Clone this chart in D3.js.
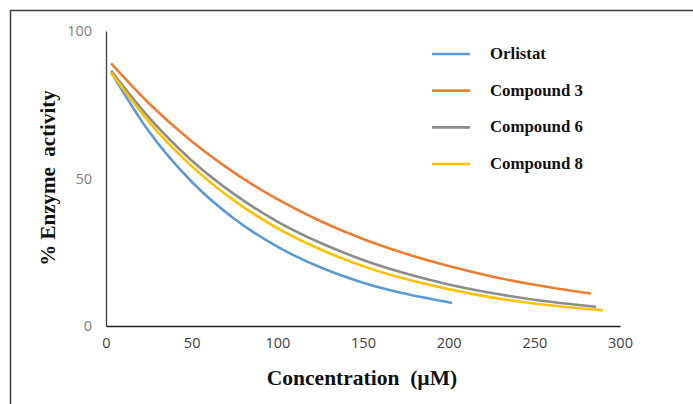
<!DOCTYPE html>
<html>
<head>
<meta charset="utf-8">
<script src="https://cdn.jsdelivr.net/npm/d3@7"></script>
<style>
  html, body { margin: 0; padding: 0; background: #ffffff; }
  svg { display: block; }
</style>
</head>
<body>
<svg id="chart" width="693" height="404"></svg>
<script>
// values
const seriesNames = ['Orlistat', 'Compound 3', 'Compound 6', 'Compound 8'];
const seriesColors = ['#5b9bd5', '#ed7d31', '#8c8c8c', '#ffc000'];

const orlistatX = [3, 25, 50, 75, 100, 125, 150, 175, 202];
const orlistatY = [86, 66.0, 48.9, 36.3, 26.9, 19.9, 14.7, 10.9, 7.8];

const compound3X = [3, 25, 50, 75, 100, 125, 150, 175, 200, 225, 250, 283];
const compound3Y = [89, 75.5, 62.6, 51.9, 43.0, 35.6, 29.5, 24.5, 20.3, 16.8, 14.0, 11.0];

const compound6X = [3, 25, 50, 75, 100, 125, 150, 175, 200, 225, 250, 286];
const compound6Y = [86.5, 70.7, 56.1, 44.6, 35.4, 28.2, 22.4, 17.8, 14.1, 11.2, 8.9, 6.5];

const compound8X = [3, 25, 50, 75, 100, 125, 150, 175, 200, 225, 250, 290];
const compound8Y = [85.9, 69.2, 54.2, 42.4, 33.2, 26.0, 20.3, 15.9, 12.5, 9.7, 7.6, 5.3];

const xTicks = [0, 50, 100, 150, 200, 250, 300];
const yTicks = [0, 50, 100];

const series = [
    {xs: orlistatX, ys: orlistatY},
    {xs: compound3X, ys: compound3Y},
    {xs: compound6X, ys: compound6Y},
    {xs: compound8X, ys: compound8Y}
].map((s, i) => ({
    name: seriesNames[i],
    color: seriesColors[i],
    points: s.xs.map((x, j) => ({x, y: s.ys[j]}))
}));

const svg = d3.select('#chart');

// outer frame (only top and left edges are visible in the crop)
svg.append('path')
    .attr('d', 'M10.5,404 L10.5,10.5 L693,10.5')
    .attr('fill', 'none')
    .attr('stroke', '#404040')
    .attr('stroke-width', 1.5);

const x = d3.scaleLinear().domain([0, 300]).range([106, 620]);
const y = d3.scaleLinear().domain([0, 100]).range([326, 31]);

// y axis
const yAxis = svg.append('g')
    .attr('transform', `translate(${x(0)},0)`)
    .call(d3.axisLeft(y).tickValues(yTicks).tickSize(0).tickPadding(14));
yAxis.select('.domain').attr('stroke', '#404040').attr('stroke-width', 1.3);
yAxis.selectAll('.tick text').attr('fill', '#7f7f7f');

// x axis
const xAxis = svg.append('g')
    .attr('transform', `translate(0,${y(0)})`)
    .call(d3.axisBottom(x).tickValues(xTicks).tickSize(0).tickPadding(12));
xAxis.select('.domain').attr('stroke', '#222222').attr('stroke-width', 1.3);
xAxis.selectAll('.tick text').attr('fill', '#404040');

svg.selectAll('.tick text')
    .attr('font-family', '"Open Sans", sans-serif')
    .attr('font-size', 14.5);

// curves
const line = d3.line()
    .x((d) => x(d.x))
    .y((d) => y(d.y))
    .curve(d3.curveMonotoneX);

svg.append('g')
    .selectAll('path')
    .data(series)
    .enter()
    .append('path')
    .attr('d', (d) => line(d.points))
    .attr('fill', 'none')
    .attr('stroke', (d) => d.color)
    .attr('stroke-width', 2.6)
    .attr('stroke-linecap', 'butt');

// axis titles
svg.append('text')
    .attr('x', 362)
    .attr('y', 385)
    .attr('text-anchor', 'middle')
    .attr('font-family', '"Liberation Serif", "Times New Roman", serif')
    .attr('font-weight', 'bold')
    .attr('font-size', 21.5)
    .attr('fill', '#111111')
    .attr('xml:space', 'preserve')
    .text('Concentration  (\u00b5M)');

svg.append('text')
    .attr('transform', 'translate(55,178) rotate(-90)')
    .attr('text-anchor', 'middle')
    .attr('font-family', '"Liberation Serif", "Times New Roman", serif')
    .attr('font-weight', 'bold')
    .attr('font-size', 21)
    .attr('fill', '#111111')
    .attr('xml:space', 'preserve')
    .text('% Enzyme  activity');

// legend
const legendY = d3.scalePoint().domain(seriesNames).range([54, 164]);
const legend = svg.append('g')
    .selectAll('g')
    .data(series)
    .enter()
    .append('g')
    .attr('transform', (d) => `translate(0,${legendY(d.name)})`);
legend.append('line')
    .attr('x1', 432)
    .attr('x2', 470)
    .attr('stroke', (d) => d.color)
    .attr('stroke-width', 2.6);
legend.append('text')
    .attr('x', 490)
    .attr('y', 5)
    .attr('font-family', '"Liberation Serif", "Times New Roman", serif')
    .attr('font-weight', 'bold')
    .attr('font-size', 16.8)
    .attr('fill', '#111111')
    .text((d) => d.name);
</script>
</body>
</html>
